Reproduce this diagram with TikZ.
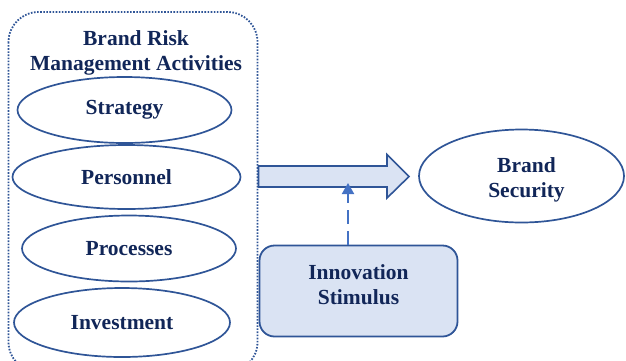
\documentclass[tikz,border=0pt]{standalone}
\usepackage{fontspec}
\setmainfont{Liberation Serif}
\usetikzlibrary{shapes.geometric,arrows.meta}
\definecolor{navytext}{HTML}{112658}
\definecolor{edgeblue}{HTML}{2F5597}
\definecolor{paleblue}{HTML}{DAE3F3}
\definecolor{linkblue}{HTML}{4472C4}
\tikzset{
  lbl/.style={font=\fontsize{21.5}{25}\selectfont\bfseries, text=navytext, align=center, inner sep=0pt},
  oval/.style={ellipse, draw=edgeblue, line width=1.7pt, inner sep=0pt, lbl},
  groupbox/.style={draw=edgeblue, line width=1.8pt, dash pattern=on 1.6pt off 1.5pt, rounded corners=30pt},
  blockarrow/.style={draw=edgeblue, fill=paleblue, line width=1.6pt, line join=miter},
  stimbox/.style={rectangle, draw=edgeblue, fill=paleblue, line width=1.8pt, rounded corners=15pt, inner sep=0pt},
  influence/.style={draw=linkblue, line width=2pt, dash pattern=on 14pt off 7pt, -{Triangle[width=12pt,length=11pt]}}
}
\begin{document}
\begin{tikzpicture}[x=1pt,y=-1pt]
\useasboundingbox (0,0) rectangle (626,360);
\clip (0,0) rectangle (626,360);

% dotted grouping frame (runs past the lower edge)
\draw[groupbox] (8.5,12) rectangle (257.5,372);
\node[lbl] (title) at (136,53) {Brand Risk\\Management Activities};

% the four activities
\node[oval, minimum width=214pt, minimum height=66pt] (strategy) at (124.5,110) {Strategy};
\node[oval, minimum width=228pt, minimum height=64pt] (personnel) at (126.5,177) {Personnel};
\node[oval, minimum width=214pt, minimum height=66pt] (processes) at (129,248.5) {Processes};
\node[oval, minimum width=216pt, minimum height=69pt] (investment) at (122,322.5) {Investment};

% outcome
\node[oval, minimum width=205pt, minimum height=93pt] (security) at (521.5,176) {};
\node[lbl] (sectext) at ([xshift=5pt,yshift=-3.5pt]security.center) {Brand\\Security};

% block arrow towards the outcome
\coordinate (tip) at (409,176.5);
\draw[blockarrow] (258.5,166) -- (387,166) -- (387,154.5) -- (tip) -- (387,198) -- (387,187) -- (258.5,187) -- cycle;
\coordinate (arrowfoot) at (348,183);

% moderating factor
\node[stimbox, minimum width=198pt, minimum height=91pt] (stimulus) at (358.5,291) {};
\node[lbl] (stimtext) at ([yshift=6pt]stimulus.center) {Innovation\\Stimulus};
\draw[influence] (arrowfoot |- stimulus.north) -- (arrowfoot);
\end{tikzpicture}
\end{document}
